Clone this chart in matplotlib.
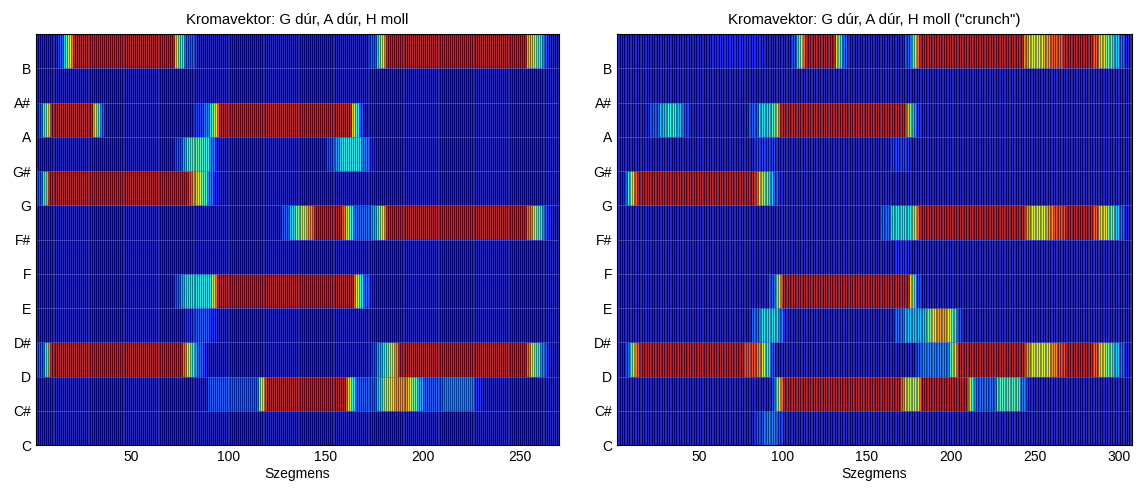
import numpy as np
import matplotlib
matplotlib.use('Agg')
import matplotlib.pyplot as plt

plt.rcParams['font.family'] = ['Liberation Sans', 'DejaVu Sans']
plt.rcParams['font.size'] = 10

pitches = ['C', 'C#', 'D', 'D#', 'E', 'F', 'F#', 'G', 'G#', 'A', 'A#', 'B']
BG = 0.05  # chroma level outside the listed runs

# chroma runs per pitch: (first segment, last segment, level)
# --- plain recording, 270 segments
n_left = 270
left_C = []
left_Cs = [(90, 115, 0.2), (116, 116, 0.4), (117, 118, 0.65), (119, 119, 0.85), (120, 160, 1.0),
           (161, 161, 0.85), (162, 163, 0.65), (164, 165, 0.4), (166, 176, 0.2), (177, 179, 0.35),
           (180, 182, 0.55), (183, 185, 0.7), (186, 192, 0.8), (193, 194, 0.68), (195, 197, 0.5),
           (198, 200, 0.3), (201, 210, 0.2), (211, 226, 0.25), (227, 230, 0.15)]
left_D = [(2, 5, 0.2), (6, 7, 0.4), (8, 8, 0.8), (9, 76, 1.0), (77, 78, 0.85), (79, 80, 0.65),
          (81, 83, 0.4), (84, 87, 0.22), (88, 89, 0.12), (174, 176, 0.18), (177, 179, 0.3),
          (180, 182, 0.4), (183, 185, 0.6), (186, 187, 0.8), (188, 253, 1.0), (254, 255, 0.85),
          (256, 257, 0.65), (258, 260, 0.42), (261, 263, 0.25), (264, 265, 0.15)]
left_Ds = [(78, 82, 0.15), (83, 90, 0.2), (91, 94, 0.15)]
left_E = [(73, 75, 0.2), (76, 77, 0.3), (78, 91, 0.38), (92, 93, 0.6), (94, 94, 0.85), (95, 164, 1.0),
          (165, 165, 0.85), (166, 167, 0.65), (168, 169, 0.4), (170, 172, 0.22), (173, 174, 0.12)]
left_F = []
left_Fs = [(128, 131, 0.2), (132, 134, 0.35), (135, 137, 0.5), (138, 140, 0.62), (141, 143, 0.8),
           (144, 144, 0.9), (145, 158, 1.0), (159, 160, 0.85), (161, 162, 0.62), (163, 164, 0.4),
           (165, 173, 0.22), (174, 176, 0.3), (177, 178, 0.45), (179, 180, 0.68), (181, 181, 0.88),
           (182, 253, 1.0), (254, 256, 0.85), (257, 258, 0.62), (259, 261, 0.42), (262, 263, 0.25),
           (264, 266, 0.15)]
left_G = [(2, 4, 0.2), (5, 6, 0.4), (7, 7, 0.75), (8, 79, 1.0), (80, 81, 0.9), (82, 83, 0.78),
          (84, 86, 0.65), (87, 89, 0.45), (90, 92, 0.25), (93, 95, 0.13)]
left_Gs = [(73, 76, 0.18), (77, 78, 0.3), (79, 81, 0.4), (82, 86, 0.47), (87, 90, 0.4), (91, 93, 0.25),
           (94, 95, 0.12), (151, 154, 0.18), (155, 157, 0.28), (158, 168, 0.38), (169, 172, 0.25),
           (173, 175, 0.13)]
left_A = [(3, 4, 0.2), (5, 6, 0.4), (7, 8, 0.65), (9, 30, 1.0), (31, 32, 0.7), (33, 34, 0.4),
          (35, 36, 0.2), (83, 87, 0.17), (88, 90, 0.25), (91, 92, 0.4), (93, 94, 0.65), (95, 95, 0.88),
          (96, 163, 1.0), (164, 165, 0.7), (166, 167, 0.4), (168, 169, 0.2)]
left_As = []
left_B = [(13, 15, 0.2), (16, 17, 0.4), (18, 19, 0.65), (20, 20, 0.85), (21, 72, 1.0), (73, 74, 0.7),
          (75, 77, 0.4), (78, 83, 0.2), (173, 176, 0.2), (177, 178, 0.4), (179, 180, 0.65),
          (181, 181, 0.88), (182, 253, 1.0), (254, 256, 0.75), (257, 258, 0.6), (259, 261, 0.4),
          (262, 263, 0.25), (264, 265, 0.15)]

# --- "crunch" recording, 308 segments
n_right = 308
right_C = [(84, 88, 0.18), (89, 96, 0.25), (97, 100, 0.18)]
right_Cs = [(94, 95, 0.2), (96, 97, 0.45), (98, 99, 0.7), (100, 100, 0.9), (101, 170, 1.0),
            (171, 172, 0.85), (173, 174, 0.7), (175, 181, 0.6), (182, 182, 0.85), (183, 210, 1.0),
            (211, 212, 0.7), (213, 214, 0.4), (215, 227, 0.22), (228, 241, 0.45), (242, 245, 0.25),
            (246, 247, 0.13)]
right_D = [(7, 8, 0.2), (9, 10, 0.4), (11, 12, 0.65), (13, 14, 0.88), (15, 76, 1.0), (77, 84, 0.9),
           (85, 87, 0.82), (88, 89, 0.65), (90, 92, 0.4), (93, 95, 0.2), (180, 182, 0.2),
           (183, 199, 0.25), (200, 201, 0.45), (202, 203, 0.7), (204, 204, 0.88), (205, 244, 1.0),
           (245, 247, 0.8), (248, 259, 0.66), (260, 263, 0.8), (264, 268, 0.9), (269, 284, 1.0),
           (285, 288, 0.88), (289, 292, 0.7), (293, 296, 0.5), (297, 300, 0.35), (301, 303, 0.22),
           (304, 306, 0.13)]
right_Ds = [(82, 86, 0.22), (87, 97, 0.37), (98, 100, 0.25), (101, 103, 0.13), (167, 172, 0.22),
            (173, 185, 0.33), (186, 188, 0.5), (189, 191, 0.68), (192, 197, 0.78), (198, 200, 0.68),
            (201, 203, 0.45), (204, 206, 0.2)]
right_E = [(92, 95, 0.2), (96, 97, 0.45), (98, 99, 0.7), (100, 175, 1.0), (176, 177, 0.7),
           (178, 179, 0.4), (180, 182, 0.18)]
right_F = [(167, 175, 0.14)]
right_Fs = [(159, 164, 0.22), (165, 176, 0.38), (177, 178, 0.5), (179, 180, 0.7), (181, 181, 0.9),
            (182, 244, 1.0), (245, 247, 0.8), (248, 257, 0.66), (258, 261, 0.8), (262, 268, 0.9),
            (269, 284, 1.0), (285, 288, 0.88), (289, 293, 0.7), (294, 297, 0.5), (298, 300, 0.35),
            (301, 303, 0.22), (304, 306, 0.13)]
right_G = [(6, 7, 0.2), (8, 9, 0.4), (10, 11, 0.65), (12, 13, 0.88), (14, 83, 1.0), (84, 85, 0.88),
           (86, 88, 0.7), (89, 91, 0.5), (92, 94, 0.35), (95, 97, 0.2), (98, 99, 0.12)]
right_Gs = [(84, 96, 0.16), (165, 175, 0.16)]
right_A = [(21, 26, 0.2), (27, 30, 0.33), (31, 36, 0.4), (37, 40, 0.33), (41, 44, 0.18), (80, 85, 0.2),
           (86, 93, 0.37), (94, 95, 0.45), (96, 97, 0.6), (98, 98, 0.85), (99, 173, 1.0),
           (174, 175, 0.75), (176, 177, 0.5), (178, 179, 0.3), (180, 182, 0.15)]
right_As = []
right_B = [(58, 88, 0.12), (106, 108, 0.2), (109, 110, 0.4), (111, 112, 0.65), (113, 113, 0.88),
           (114, 131, 1.0), (132, 133, 0.65), (134, 135, 0.4), (136, 138, 0.22), (139, 140, 0.12),
           (173, 176, 0.2), (177, 178, 0.4), (179, 180, 0.65), (181, 181, 0.88), (182, 243, 1.0),
           (244, 246, 0.8), (247, 255, 0.66), (256, 259, 0.78), (260, 267, 0.88), (268, 284, 1.0),
           (285, 288, 0.88), (289, 292, 0.7), (293, 296, 0.5), (297, 300, 0.35), (301, 303, 0.22),
           (304, 306, 0.13)]

left_rows = [left_C, left_Cs, left_D, left_Ds, left_E, left_F, left_Fs, left_G, left_Gs, left_A, left_As, left_B]
right_rows = [right_C, right_Cs, right_D, right_Ds, right_E, right_F, right_Fs, right_G, right_Gs,
              right_A, right_As, right_B]


def chroma_matrix(rows, n):
    m = np.full((len(rows), n), BG)
    for k, runs in enumerate(rows):
        for s, e, v in runs:
            m[k, s - 1:e] = v
    return m


def draw(ax, rows, n, title):
    m = chroma_matrix(rows, n)
    seg = np.arange(1, n + 1)
    # each pitch band is flat in y, smooth in x -> duplicate every row at its two edges
    X = np.repeat(seg[None, :], 2 * len(rows), axis=0)
    Y = np.repeat(np.arange(1, len(rows) + 1), 2)[:, None] + np.tile([0, 1], len(rows))[:, None]
    Y = np.repeat(Y, n, axis=1).astype(float)
    C = np.repeat(m, 2, axis=0)
    ax.pcolormesh(X, Y, C, shading='gouraud', cmap='jet', vmin=0, vmax=1.05)
    # mesh edges
    ax.vlines(seg, 1, 13, color='#000028', lw=0.6, alpha=0.55)
    ax.vlines(seg + 0.5, 1, 13, color='#b4bce0', lw=0.5, alpha=0.33)
    for k in range(2, 13):
        ax.axhline(k, color='#5868c8', lw=0.6, alpha=0.7)
    ax.set_xlim(1, n)
    ax.set_ylim(1, 13)
    ax.set_yticks(range(1, 13))
    ax.set_yticklabels(pitches)
    ax.set_xticks(range(50, n, 50))
    ax.tick_params(direction='in', length=3, width=0.6)
    for s in ax.spines.values():
        s.set_linewidth(0.8)
    ax.set_title(title, fontsize=10.8, pad=7)
    ax.set_xlabel('Szegmens', labelpad=2)


fig = plt.figure(figsize=(11.4, 4.9), dpi=100)
ax1 = fig.add_axes([0.0316, 0.0918, 0.4588, 0.8388])
ax2 = fig.add_axes([0.5412, 0.0918, 0.4518, 0.8388])

draw(ax1, left_rows, n_left, 'Kromavektor: G dúr, A dúr, H moll')
draw(ax2, right_rows, n_right, 'Kromavektor: G dúr, A dúr, H moll ("crunch")')

fig.savefig('out.png', dpi=100)
